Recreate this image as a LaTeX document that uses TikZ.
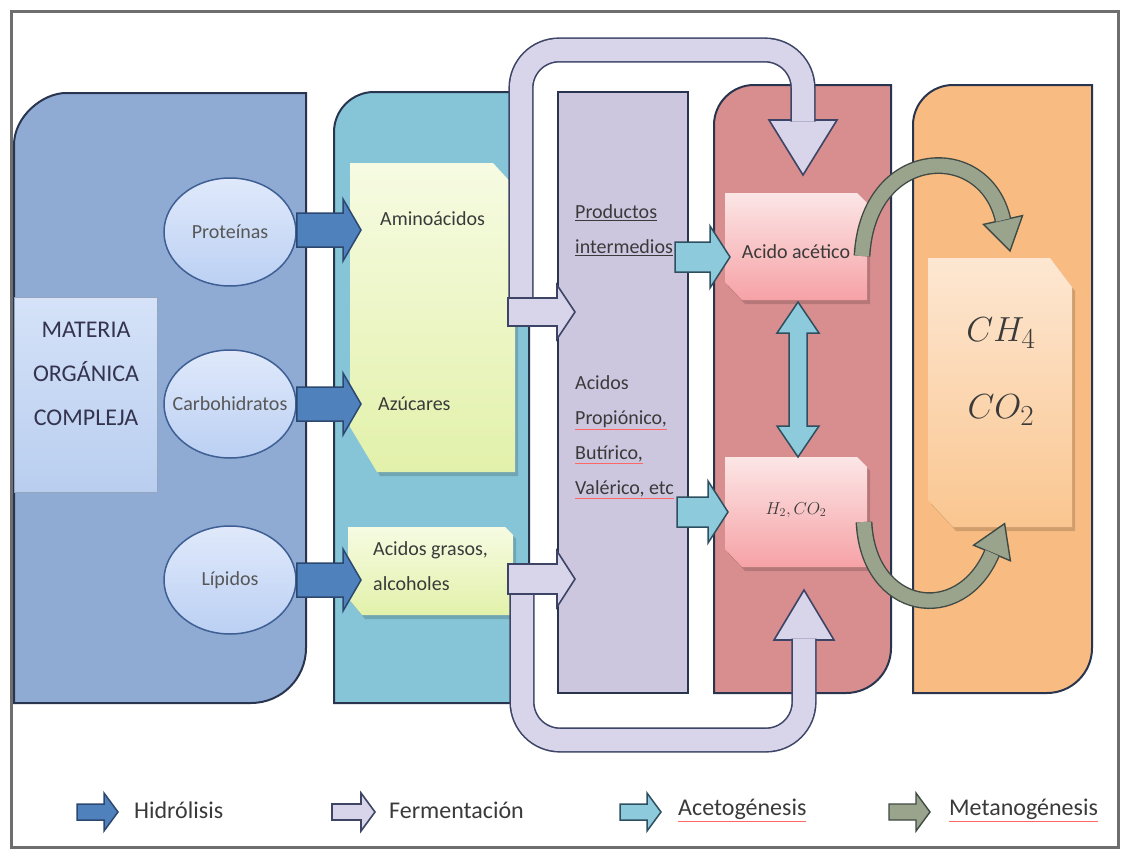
\documentclass[tikz,border=0pt]{standalone}
\usepackage{fontspec}
\setmainfont{Carlito}
\usetikzlibrary{calc,shapes.geometric}
\definecolor{framec}{HTML}{6E6E6E}
\definecolor{pbord}{HTML}{29354F}
\definecolor{bluep}{HTML}{8FABD4}
\definecolor{mattop}{HTML}{D5E2F8}
\definecolor{matbot}{HTML}{B9CEEF}
\definecolor{ellt}{HTML}{E0E9FB}
\definecolor{ellbot}{HTML}{BBD0F3}
\definecolor{ellb}{HTML}{3E5F93}
\definecolor{hydf}{HTML}{4F81BD}
\definecolor{hydb}{HTML}{2C4770}
\definecolor{tealp}{HTML}{86C5D7}
\definecolor{gtop}{HTML}{F6FBE2}
\definecolor{gbot}{HTML}{E2F1AA}
\definecolor{lavp}{HTML}{CCC7DF}
\definecolor{pipef}{HTML}{D8D5EA}
\definecolor{pdark}{HTML}{3D4466}
\definecolor{redp}{HTML}{D88E8E}
\definecolor{ptop}{HTML}{FCE6E6}
\definecolor{pbot}{HTML}{F6A2A6}
\definecolor{acef}{HTML}{8DCBDC}
\definecolor{aceb}{HTML}{2D4F5F}
\definecolor{orangep}{HTML}{F8BC82}
\definecolor{peachtop}{HTML}{FDE7D2}
\definecolor{peachbot}{HTML}{FAC690}
\definecolor{methf}{HTML}{9AA38B}
\definecolor{methb}{HTML}{3F4A45}
\definecolor{txtc}{HTML}{3A3A3A}
\newcommand{\hblk}[6]{\draw[#1] ($(#2|-#3)+(0,#4)$) -- ($(#3)+(-#6,#4)$) -- ($(#3)+(-#6,#5)$) -- (#3) -- ($(#3)+(-#6,-#5)$) -- ($(#3)+(-#6,-#4)$) -- ($(#2|-#3)+(0,-#4)$) -- cycle;}
\newcommand{\ru}[1]{{\color{red!60}\underline{\textcolor{txtc}{#1}}}}
\begin{document}
\begin{tikzpicture}[x=1pt,y=-1pt,
  panel/.style={draw=pbord, line width=2pt},
  lbl/.style={text=txtc, font=\fontsize{20}{35}\selectfont, inner sep=0pt},
  leg/.style={text=txtc, font=\fontsize{24}{28}\selectfont, inner sep=0pt, anchor=west},
  ell/.style={ellipse, draw=ellb, line width=1.5pt, top color=ellt, bottom color=ellbot, minimum width=132, minimum height=108, inner sep=0pt},
  hyd/.style={fill=hydf, draw=hydb, line width=1.5pt, line join=miter},
  ferm/.style={fill=pipef, draw=pdark, line width=1.6pt},
  aceto/.style={fill=acef, draw=aceb, line width=1.5pt},
  meth/.style={fill=methf, draw=methb, line width=1.4pt},
  pipe/.style={draw=pdark, line width=1.6pt, double=pipef, double distance=22pt},
  mpipe/.style={draw=methb, line width=1.4pt, double=methf, double distance=14pt},
  shad/.style={fill=black, opacity=0.16, xshift=3pt, yshift=-4pt}]
\useasboundingbox (0,0) rectangle (1123,851);
\fill[white] (0,0) rectangle (1123,851);
\draw[framec, line width=3pt] (11,12) rectangle (1118,847);

% panels
\draw[panel, fill=bluep] (14,703) -- (14,145) .. controls (14,116.3) and (42.7,93) .. (66,93) -- (306,93) -- (306,648) .. controls (306,678.4) and (281.4,703) .. (251,703) -- cycle;
\draw[panel, fill=tealp] (334,703) -- (334,132) .. controls (334,110) and (352,92) .. (374,92) -- (529,92) -- (529,703) -- cycle;
\draw[panel, fill=lavp] (558,92) rectangle (688,693);
\draw[panel, fill=redp] (714,693) -- (714,125) .. controls (714,103) and (732,85) .. (754,85) -- (891,85) -- (891,648) .. controls (891,672.8) and (870.8,693) .. (846,693) -- cycle;
\draw[panel, fill=orangep] (913,693) -- (913,125) .. controls (913,103) and (931,85) .. (953,85) -- (1092,85) -- (1092,648) .. controls (1092,672.8) and (1071.8,693) .. (1047,693) -- cycle;

% materia box
\shade[top color=mattop, bottom color=matbot, draw=matbot!80!black, line width=0.8pt] (14,297) rectangle (157,492);
\node[lbl, font=\fontsize{24}{44}\selectfont, align=center, text=txtc!90!blue] (mat) at (86,374) {MATERIA\\ORGÁNICA\\COMPLEJA};

% green boxes
\fill[shad] (350,163) -- (493,163) -- (515,187) -- (515,472) -- (377,472) -- (350,427) -- cycle;
\shade[top color=gtop, bottom color=gbot] (350,163) -- (493,163) -- (515,187) -- (515,472) -- (377,472) -- (350,427) -- cycle;
\fill[shad] (348,527) -- (505,527) -- (513,535) -- (513,615) -- (362,615) -- (348,598) -- cycle;
\shade[top color=gtop, bottom color=gbot] (348,527) -- (505,527) -- (513,535) -- (513,615) -- (362,615) -- (348,598) -- cycle;

% pink boxes
\fill[shad] (725,193) -- (857,193) -- (867,203) -- (867,300) -- (742,300) -- (725,282) -- cycle;
\shade[top color=ptop, bottom color=pbot] (725,193) -- (857,193) -- (867,203) -- (867,300) -- (742,300) -- (725,282) -- cycle;
\fill[shad] (725,457) -- (857,457) -- (867,467) -- (867,567) -- (742,567) -- (725,549) -- cycle;
\shade[top color=ptop, bottom color=pbot] (725,457) -- (857,457) -- (867,467) -- (867,567) -- (742,567) -- (725,549) -- cycle;

% CH4 box
\fill[shad] (928,258) -- (1050,258) -- (1072,287) -- (1072,527) -- (953,527) -- (928,500) -- cycle;
\shade[top color=peachtop, bottom color=peachbot] (928,258) -- (1050,258) -- (1072,287) -- (1072,527) -- (953,527) -- (928,500) -- cycle;

% ellipses and texts
\node[ell] (prot) at (230,232) {};
\node[lbl, text=txtc!85] at (prot) {Proteínas};
\node[ell] (carb) at (230,404) {};
\node[lbl, text=txtc!85] at (carb) {Carbohidratos};
\node[ell] (lip) at (230,580) {};
\node[lbl, text=txtc!85] at (lip) {Lípidos};
\node[lbl, anchor=west] (amino) at (380,219) {Aminoácidos};
\node[lbl, anchor=west] (azu) at (378,404) {Azúcares};
\node[lbl, anchor=west, align=left] (grasos) at (373,566) {Acidos grasos,\\alcoholes};
\node[lbl, anchor=west, align=left] (prodi) at (575,230) {\underline{Productos}\\\underline{intermedios}};
\node[lbl, anchor=west, align=left] (acids) at (575,437) {Acidos\\\ru{Propiónico,}\\\ru{Butírico,}\\\ru{Valérico, etc}};
\node[lbl] (acet) at (796,252) {Acido acético};
\node[lbl, font=\fontsize{17.28}{20}\selectfont] (h2) at (796,510) {$H_2 , CO_2$};
\node[lbl, font=\fontsize{24.88}{30}\selectfont] (ch4a) at (1001,333) {\scalebox{1.4}{$CH_4$}};
\node[lbl, font=\fontsize{24.88}{30}\selectfont] (ch4b) at (1001,410) {\scalebox{1.4}{$CO_2$}};

% coordinates
\coordinate (hy1) at (361,230);
\coordinate (hy2) at (361,404);
\coordinate (hy3) at (361,580);
\coordinate (f1s) at (508,311);
\coordinate (f1t) at (575,312);
\coordinate (f2s) at (508,579);
\coordinate (f2t) at (575,579);
\coordinate (p1a) at (521,297);
\coordinate (p1b) at (521,50);
\coordinate (p1c) at (803,50);
\coordinate (p1d) at (803,121.5);
\coordinate (p1h) at (803,120);
\coordinate (p2a) at (522,593);
\coordinate (p2b) at (522,740);
\coordinate (p2c) at (804,740);
\coordinate (p2d) at (804,638.5);
\coordinate (p2h) at (804,640);
\coordinate (ac1s) at (675,257);
\coordinate (ac1t) at (730,257);
\coordinate (ac2s) at (677,512);
\coordinate (ac2t) at (728,512);
\coordinate (dtop) at (798,302);
\coordinate (dbot) at (798,457);
\coordinate (m1s) at (862,256);
\coordinate (m1e) at (1003,220);
\coordinate (m2s) at (864,522);
\coordinate (m2e) at (992,553);

% fermentation pipes
\draw[ferm] ($(p1h)+(-34,0)$) -- ($(p1h)+(34,0)$) -- ($(p1h)+(0,55)$) -- cycle;
\draw[pipe, rounded corners=38pt] (p1a) -- (p1b) -- (p1c) -- (p1d);
\draw[ferm] ($(p2h)+(-30,0)$) -- ($(p2h)+(30,0)$) -- ($(p2h)+(0,-50)$) -- cycle;
\draw[pipe, rounded corners=38pt] (p2a) -- (p2b) -- (p2c) -- (p2d);
\hblk{ferm}{f1s}{f1t}{14}{27}{18}
\hblk{ferm}{f2s}{f2t}{15}{28}{18}

% hydrolysis
\hblk{hyd}{prot.east}{hy1}{17}{31}{18}
\hblk{hyd}{carb.east}{hy2}{17}{31}{18}
\hblk{hyd}{lip.east}{hy3}{17}{31}{18}

% acetogenesis
\hblk{aceto}{ac1s}{ac1t}{15}{31}{20}
\hblk{aceto}{ac2s}{ac2t}{15}{31}{20}
\draw[aceto] (dtop) -- ($(dtop)+(21,31)$) -- ($(dtop)+(9,31)$) -- ($(dbot)+(9,-31)$) -- ($(dbot)+(21,-31)$) -- (dbot) -- ($(dbot)+(-21,-31)$) -- ($(dbot)+(-9,-31)$) -- ($(dtop)+(-9,31)$) -- ($(dtop)+(-21,31)$) -- cycle;

% methanogenesis
\draw[meth] ($(m1e)+(19.5,-4.4)$) -- ($(m1e)+(7,31)$) -- ($(m1e)+(-19.5,4.4)$) -- cycle;
\draw[mpipe] (m1s) .. controls (868,145) and (985,140) .. (m1e);
\draw[meth] ($(m2e)+(18.4,7.8)$) -- ($(m2e)+(12.6,-29.4)$) -- ($(m2e)+(-18.4,-7.8)$) -- cycle;
\draw[mpipe] (m2s) .. controls (868,612) and (960,628) .. (m2e);

% legend
\coordinate (lg1s) at (77,812);  \coordinate (lg1t) at (118,812);
\coordinate (lg2s) at (332,812); \coordinate (lg2t) at (375,812);
\coordinate (lg3s) at (620,812); \coordinate (lg3t) at (661,812);
\coordinate (lg4s) at (889,812); \coordinate (lg4t) at (930,812);
\hblk{hyd}{lg1s}{lg1t}{8}{19}{14}
\hblk{ferm}{lg2s}{lg2t}{8}{19}{14}
\hblk{aceto}{lg3s}{lg3t}{8}{19}{14}
\hblk{meth}{lg4s}{lg4t}{8}{19}{14}
\node[leg] (l1) at (134,810) {Hidrólisis};
\node[leg] (l2) at (389,810) {Fermentación};
\node[leg] (l3) at (678,810) {\ru{Acetogénesis}};
\node[leg] (l4) at (949,810) {\ru{Metanogénesis}};
\end{tikzpicture}
\end{document}
